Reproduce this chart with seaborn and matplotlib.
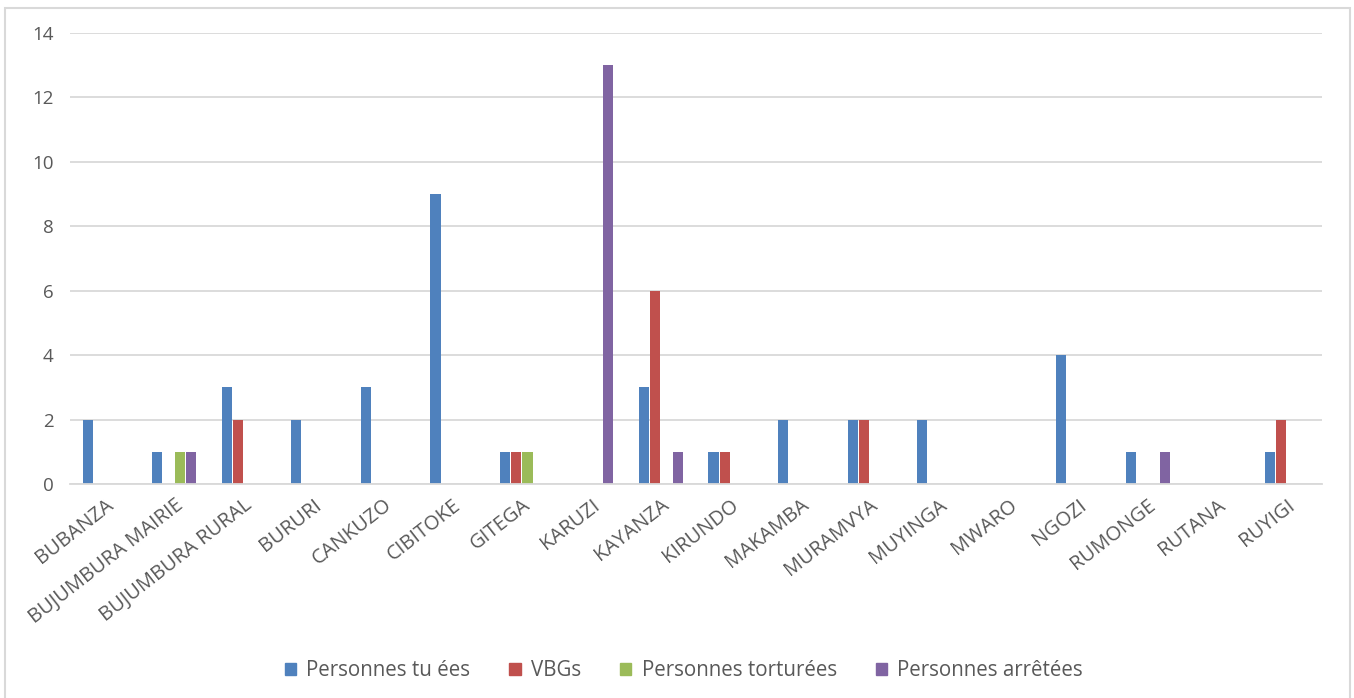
import matplotlib
matplotlib.use("Agg")
import matplotlib.pyplot as plt
import matplotlib.patches as mpatches
import seaborn as sns
import pandas as pd

provinces = ["BUBANZA", "BUJUMBURA MAIRIE", "BUJUMBURA RURAL", "BURURI", "CANKUZO",
             "CIBITOKE", "GITEGA", "KARUZI", "KAYANZA", "KIRUNDO", "MAKAMBA",
             "MURAMVYA", "MUYINGA", "MWARO", "NGOZI", "RUMONGE", "RUTANA", "RUYIGI"]
series_names = ["Personnes tu ées", "VBGs", "Personnes torturées", "Personnes arrêtées"]
tuees = [2, 1, 3, 2, 3, 9, 1, 0, 3, 1, 2, 2, 2, 0, 4, 1, 0, 1]
vbgs = [0, 0, 2, 0, 0, 0, 1, 0, 6, 1, 0, 2, 0, 0, 0, 0, 0, 2]
torturees = [0, 1, 0, 0, 0, 0, 1, 0, 0, 0, 0, 0, 0, 0, 0, 0, 0, 0]
arretees = [0, 1, 0, 0, 0, 0, 0, 13, 1, 0, 0, 0, 0, 0, 0, 1, 0, 0]
colors = ["#4F81BD", "#C0504D", "#9BBB59", "#8064A2"]

rows = []
for name, vals in zip(series_names, [tuees, vbgs, torturees, arretees]):
    for p, v in zip(provinces, vals):
        rows.append({"Province": p, "Série": name, "Valeur": v})
df = pd.DataFrame(rows)

sns.set_theme(style="white")
plt.rcParams["font.family"] = ["Open Sans", "DejaVu Sans"]

fig = plt.figure(figsize=(13.54, 6.98), dpi=100)
ax = fig.add_axes([0.0517, 0.3066, 0.9243, 0.6461])

sns.barplot(data=df, x="Province", y="Valeur", hue="Série", order=provinces,
            hue_order=series_names, palette=colors, width=0.65, gap=0.1,
            saturation=1, ax=ax, legend=True, edgecolor="none")

ax.set_ylim(0, 14)
ax.set_yticks(range(0, 15, 2))
ax.set_xlim(-0.5, len(provinces) - 0.5)
ax.yaxis.grid(True, color="#D9D9D9", linewidth=1.3)
ax.set_axisbelow(True)
for s in ["top", "right", "left"]:
    ax.spines[s].set_visible(False)
ax.spines["bottom"].set_color("#D9D9D9")
ax.spines["bottom"].set_linewidth(1.3)
ax.tick_params(axis="both", length=0, colors="#595959")
ax.tick_params(axis="y", pad=12, labelsize=13.5)
ax.tick_params(axis="x", pad=8, labelsize=14.5)
ax.set_xlabel("")
ax.set_ylabel("")
plt.setp(ax.get_xticklabels(), rotation=38, ha="right", rotation_mode="anchor")

handles = [mpatches.Patch(color=c, label=n) for c, n in zip(colors, series_names)]
ax.legend_.remove()
fig.legend(handles=handles, loc="center", bbox_to_anchor=(0.505, 0.039), ncol=4,
           frameon=False, fontsize=14.8, handlelength=0.55, handleheight=0.55,
           handletextpad=0.5, columnspacing=1.9, labelcolor="#595959")

fig.patches.append(mpatches.Rectangle((0.004, -0.01), 0.993, 0.999,
                                      transform=fig.transFigure, fill=False,
                                      edgecolor="#D9D9D9", linewidth=1.5))

fig.savefig("out.png", dpi=100, facecolor="white")
